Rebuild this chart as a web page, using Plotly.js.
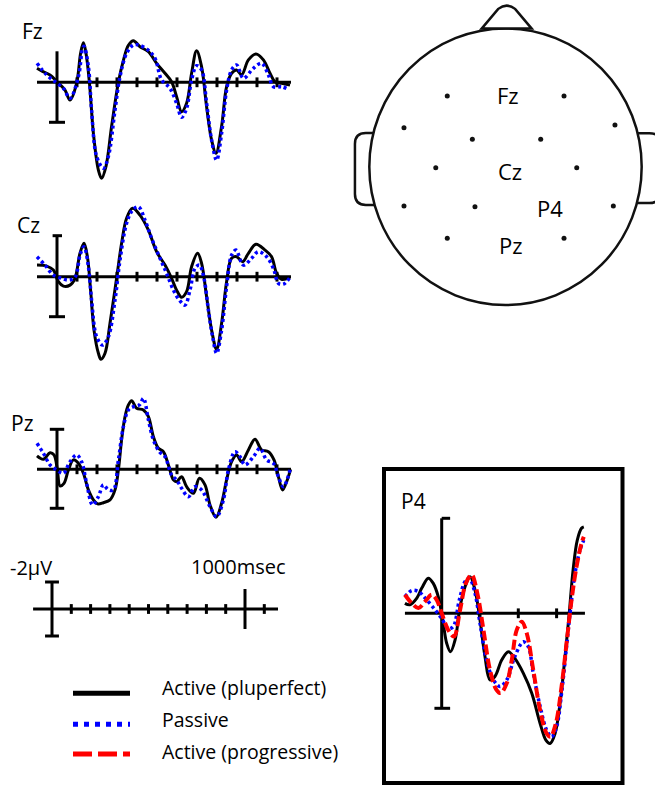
<!DOCTYPE html>
<html><head><meta charset="utf-8">
<script src="https://cdn.plot.ly/plotly-3.0.1.min.js"></script>
<style>html,body{margin:0;padding:0;background:#fff}#chart{width:655px;height:788px}</style>
</head><body><div id="chart"></div>
<script>
// ---------------- DATA (time in ms, amplitude in µV; negative plotted up) ----------------
const fzActiveT = [-100,-70,-35,0,40,65,98,118,132,145,162,182,207,223,245,273,307,332,357,382,415,457,498,540,573,598,623,648,673,698,723,748,773,795,823,848,873,898,923,957,995,1032,1065,1090,1123,1165];
const fzActiveV = [-0.70,-0.53,-0.37,-0.03,0.39,0.89,0.05,-1.45,-1.98,-1.45,0.0,2.55,4.39,4.8,4.2,2.2,0.0,-1.1,-1.85,-2.08,-1.78,-1.53,-0.95,-0.45,-0.03,0.72,1.47,1.05,-0.45,-1.58,-0.78,1.22,2.89,3.55,2.2,0.22,-0.45,-0.62,-0.37,-1.12,-1.42,-1.12,-0.45,-0.03,0.05,0.14];
const fzPassiveT = [-100,-52,-10,32,65,107,128,135,157,173,198,232,257,290,315,348,382,407,457,490,523,565,598,623,648,673,698,723,748,773,798,823,848,873,898,932,982,1023,1057,1082,1123,1157];
const fzPassiveV = [-0.95,-0.37,-0.03,0.30,0.80,-0.28,-1.70,-1.80,-0.78,1.39,3.7,4.3,3.7,1.39,-0.28,-1.45,-1.87,-1.87,-1.6,-1.2,-0.12,0.30,1.05,1.75,1.3,-0.12,-0.83,-0.62,1.05,2.89,3.89,2.55,0.39,-0.62,-0.87,-0.2,-0.7,-0.95,-0.37,0.22,0.22,0.35];

const czActiveT = [-100,-52,-18,7,32,65,90,115,135,152,168,185,207,220,240,265,298,323,348,378,415,457,498,540,573,598,623,648,673,703,723,748,773,798,823,848,873,898,928,957,995,1040,1073,1098,1123,1165];
const czActiveV = [-0.58,-0.53,-0.33,0.25,0.47,0.42,0.08,-1.17,-1.67,-1.0,0.67,2.67,3.83,4.13,3.83,2.33,0.08,-1.67,-2.92,-3.42,-3.08,-2.33,-1.25,-0.58,0.08,0.67,1.03,0.75,-0.5,-1.17,-0.67,1.0,2.67,3.63,2.33,0.25,-0.92,-1.0,-0.75,-1.17,-1.62,-1.33,-1.0,-0.17,0.13,0.03];
const czPassiveT = [-100,-60,-18,23,57,90,115,135,157,173,198,228,257,290,315,348,378,407,440,473,515,548,582,612,640,665,690,712,735,757,778,798,823,848,873,895,932,973,1007,1048,1082,1107,1132,1162];
const czPassiveV = [-1.0,-0.58,-0.08,0.08,0.17,0.03,-1.08,-1.5,-0.5,1.17,3.0,3.42,3.0,1.17,-0.83,-2.67,-3.33,-3.5,-2.83,-1.92,-0.92,-0.17,0.67,1.17,1.42,0.67,-0.42,-0.58,0.08,1.67,3.0,3.83,2.67,0.5,-1.08,-1.33,-0.58,-0.92,-1.25,-1.0,-0.42,0.33,0.37,0.08];

const pzActiveT = [-100,-68,-35,-15,2,15,35,57,82,107,132,157,182,203,232,265,290,307,323,340,357,373,398,432,457,482,507,532,557,582,598,623,648,682,712,740,765,795,823,848,873,898,923,957,990,1023,1057,1085,1107,1128,1148,1168];
const pzActiveV = [-0.67,-0.5,-0.83,-0.72,0.03,0.83,0.7,0.03,-0.47,-0.3,0.2,1.03,1.53,1.73,1.67,1.53,1.03,0.03,-1.47,-2.63,-3.22,-3.43,-3.05,-2.97,-2.63,-1.63,-1.05,-0.88,-0.22,0.53,0.62,0.37,0.87,1.2,0.45,0.78,1.78,2.4,1.7,0.53,-0.38,-0.72,-0.38,-0.97,-1.5,-0.97,-0.88,-0.47,0.37,1.03,0.62,0.0];
const pzPassiveT = [-100,-68,-35,-2,32,65,98,123,148,178,207,232,257,282,307,332,357,382,412,432,457,482,512,540,573,598,623,657,690,723,765,798,832,857,890,915,940,982,1015,1048,1082,1107,1132,1165];
const pzPassiveV = [-1.3,-0.8,-0.22,0.03,0.2,-0.38,-0.72,-0.38,0.7,1.78,1.37,0.78,1.03,1.03,-0.47,-2.13,-2.97,-3.13,-3.22,-3.55,-2.47,-1.47,-0.88,-0.63,0.28,0.53,0.95,1.37,0.87,1.03,1.87,2.37,1.53,0.03,-0.88,-0.63,-0.22,-0.63,-1.05,-0.47,-0.3,0.37,0.87,0.03];

const p4ActiveT = [-96,-83,-65,-52,-35,-22,-9,4,13,23,35,48,61,74,87,100,113,126,139,157,174,191,213,235,257,272,283,296,309,322,333,343,354,365,371];
const p4ActiveV = [-0.21,-0.18,-0.32,-0.53,-0.74,-0.63,-0.35,0.21,0.63,0.81,0.56,-0.14,-0.56,-0.77,-0.49,0.14,0.91,1.40,1.33,0.98,0.81,0.95,1.26,1.68,2.32,2.67,2.74,2.53,1.89,0.91,0.0,-0.91,-1.54,-1.79,-1.82];
const p4PassiveT = [-96,-78,-61,-39,-17,0,17,30,46,61,72,87,100,117,135,152,170,191,213,226,239,257,274,287,300,313,326,337,348,361,371];
const p4PassiveV = [-0.35,-0.48,-0.46,-0.28,-0.07,0.11,0.32,0.28,-0.28,-0.67,-0.74,-0.42,0.21,0.98,1.40,1.54,1.40,0.91,0.60,0.70,1.26,1.96,2.46,2.60,2.39,1.68,0.70,-0.14,-0.84,-1.33,-1.54];
const p4ProgT = [-96,-78,-61,-43,-26,-13,0,17,32,48,63,78,93,109,126,143,154,170,183,196,209,222,239,257,274,284,298,313,326,339,352,365,371];
const p4ProgV = [-0.39,-0.21,-0.11,-0.25,-0.39,-0.28,0.0,0.35,0.49,-0.07,-0.63,-0.81,-0.42,0.35,1.19,1.61,1.68,1.47,0.98,0.35,0.18,0.42,1.19,2.04,2.53,2.60,2.32,1.54,0.63,-0.28,-0.98,-1.47,-1.61];

const panelTicks = [100,200,300,400,500,600,700,800,900,1000,1100];
const p4Ticks = [100,200,300];
const scaleTicks = [100,200,300,400,500,600,700,800,900,1100];
const panelNames = ['Fz','Cz','Pz'];
const legendLabels = ['Active (pluperfect)','Passive','Active (progressive)'];
const scaleLabels = ['-2µV','1000msec'];
const headLabels = ['Fz','Cz','P4','Pz'];
// electrode positions on the scalp map (head radius = 1)
const elecX = [-0.425,0.427,-0.741,0.799,-0.242,0.257,-0.509,0.52,-0.741,-0.223,0.787,-0.425,0.427];
const elecY = [-0.516,-0.516,-0.285,-0.304,-0.2,-0.2,0.007,0.007,0.287,0.292,0.287,0.523,0.523];

// ---------------- LAYOUT HELPERS ----------------
const W = 655, H = 788;
const px = x => x / W, py = y => 1 - y / H;
function panel(g) {
  return {
    x: {domain: [px(g.left), px(g.right)], range: [(g.left - g.zeroX) / g.pxPerMs, (g.right - g.zeroX) / g.pxPerMs], visible: false, fixedrange: true},
    y: {domain: [py(g.bottom), py(g.top)], range: [(g.bottom - g.baseY) / g.pxPerUv, (g.top - g.baseY) / g.pxPerUv], visible: false, fixedrange: true}
  };
}
const geo = {
  fz: {left: 33, right: 295, top: 18, bottom: 192, zeroX: 57, pxPerMs: 0.2, baseY: 82.3, pxPerUv: 20},
  cz: {left: 33, right: 295, top: 196, bottom: 372, zeroX: 57, pxPerMs: 0.2, baseY: 276.7, pxPerUv: 20},
  pz: {left: 33, right: 295, top: 384, bottom: 530, zeroX: 57, pxPerMs: 0.2, baseY: 469.3, pxPerUv: 20},
  sc: {left: 30, right: 282, top: 575, bottom: 645, zeroX: 52, pxPerMs: 0.193, baseY: 609, pxPerUv: 13.5},
  p4: {left: 402, right: 590, top: 505, bottom: 760, zeroX: 441.7, pxPerMs: 0.383, baseY: 613.3, pxPerUv: 47.5}
};
const ids = {fz: ['x', 'y', ''], cz: ['x2', 'y2', '2'], pz: ['x3', 'y3', '3'], sc: ['x4', 'y4', '4'], p4: ['x5', 'y5', '5']};

const layout = {
  width: W, height: H, margin: {l: 0, r: 0, t: 0, b: 0},
  paper_bgcolor: '#fff', plot_bgcolor: 'rgba(0,0,0,0)', showlegend: false,
  font: {family: 'Open Sans, sans-serif', color: '#000'},
  shapes: [], annotations: []
};
for (const k in geo) {
  const p = panel(geo[k]); const s = ids[k][2];
  layout['xaxis' + s] = Object.assign(p.x, {anchor: ids[k][1]});
  layout['yaxis' + s] = Object.assign(p.y, {anchor: ids[k][0]});
}
// head axis (units of head radius)
const head = {cx: 505.5, cy: 166.7, r: 137, left: 345, right: 655, top: 0, bottom: 315};
layout.xaxis6 = {domain: [px(head.left), px(head.right)], range: [(head.left - head.cx) / head.r, (head.right - head.cx) / head.r], visible: false, anchor: 'y6'};
layout.yaxis6 = {domain: [py(head.bottom), py(head.top)], range: [(head.bottom - head.cy) / head.r, (head.top - head.cy) / head.r], visible: false, anchor: 'x6'};

const K = '#000';
function hline(xa, ya, x0, x1, y, w) { return {type: 'line', xref: xa, yref: ya, x0: x0, x1: x1, y0: y, y1: y, layer: 'below', line: {color: K, width: w}}; }
function vline(xa, ya, x, y0, y1, w) { return {type: 'line', xref: xa, yref: ya, x0: x, x1: x, y0: y0, y1: y1, layer: 'below', line: {color: K, width: w}}; }

// ---------------- TRACES ----------------
const traces = [];
const sBlack = {color: '#000', width: 3};
const sBlue = {color: '#0000ff', width: 3.5, dash: '3px,3px'};
const sRed = {color: '#ff0000', width: 4, dash: '10px,4px'};
function curve(t, v, k, st) {
  traces.push({type: 'scatter', mode: 'lines', x: t, y: v, xaxis: ids[k][0], yaxis: ids[k][1],
    line: Object.assign({shape: 'spline', smoothing: 1}, st), hoverinfo: 'skip'});
}
function ticks(t, k, size) {
  traces.push({type: 'scatter', mode: 'markers', x: t, y: t.map(() => 0), xaxis: ids[k][0], yaxis: ids[k][1],
    marker: {symbol: 'line-ns', size: size, line: {width: 3, color: K}}, hoverinfo: 'skip'});
}
['fz', 'cz', 'pz'].forEach(k => ticks(panelTicks, k, 7));
ticks(p4Ticks, 'p4', 7);
ticks(scaleTicks, 'sc', 7);

curve(fzActiveT, fzActiveV, 'fz', sBlack); curve(fzPassiveT, fzPassiveV, 'fz', sBlue);
curve(czActiveT, czActiveV, 'cz', sBlack); curve(czPassiveT, czPassiveV, 'cz', sBlue);
curve(pzActiveT, pzActiveV, 'pz', sBlack); curve(pzPassiveT, pzPassiveV, 'pz', sBlue);
curve(p4ActiveT, p4ActiveV, 'p4', sBlack); curve(p4PassiveT, p4PassiveV, 'p4', sBlue); curve(p4ProgT, p4ProgV, 'p4', sRed);

// electrodes
traces.push({type: 'scatter', mode: 'markers', x: elecX, y: elecY, xaxis: 'x6', yaxis: 'y6',
  marker: {color: '#111', size: 5}, hoverinfo: 'skip'});

// ---------------- SHAPES ----------------
const S = layout.shapes;
// baselines
['fz', 'cz', 'pz'].forEach(k => S.push(hline(ids[k][0], ids[k][1], -100, 1170, 0, 3)));
S.push(hline('x5', 'y5', -96, 374, 0, 3));
S.push(hline('x4', 'y4', -98, 1171, 0, 3));
// amplitude bars in each panel
S.push(vline('x', 'y', 0, -1.55, 2.0, 3)); S.push(hline('x', 'y', -40, 40, 2.0, 3));
S.push(vline('x2', 'y2', 0, -2.05, 2.0, 3)); S.push(hline('x2', 'y2', -22, 25, -2.05, 3)); S.push(hline('x2', 'y2', -40, 40, 2.0, 3));
S.push(vline('x3', 'y3', 0, -2.0, 1.95, 3)); S.push(hline('x3', 'y3', -36, 36, -2.0, 3)); S.push(hline('x3', 'y3', -36, 36, 1.95, 3));
S.push(vline('x5', 'y5', 0, -2.0, 2.0, 3)); S.push(hline('x5', 'y5', 0, 22, -2.0, 3)); S.push(hline('x5', 'y5', -19, 22, 2.0, 3));
// scale key
S.push(vline('x4', 'y4', 0, -2, 2, 3)); S.push(hline('x4', 'y4', -36, 36, -2, 3)); S.push(hline('x4', 'y4', -36, 36, 2, 3));
S.push(vline('x4', 'y4', 1000, -1.48, 1.48, 3));
// P4 frame
S.push({type: 'rect', xref: 'paper', yref: 'paper', x0: px(384), x1: px(622.5), y0: py(783), y1: py(469), layer: 'below', line: {color: K, width: 4}});
// legend samples
S.push({type: 'line', xref: 'paper', yref: 'paper', x0: px(73), x1: px(130), y0: py(693.3), y1: py(693.3), line: {color: '#000', width: 5}});
S.push({type: 'line', xref: 'paper', yref: 'paper', x0: px(73), x1: px(130), y0: py(724.3), y1: py(724.3), line: {color: '#0000ff', width: 5, dash: '5px,6px'}});
S.push({type: 'line', xref: 'paper', yref: 'paper', x0: px(73), x1: px(130), y0: py(754), y1: py(754), line: {color: '#ff0000', width: 5, dash: '19px,6px'}});
// head: ears, outline, nose
function ear(x0, x1, y0, y1, r, left) {
  return left
    ? `M ${x1},${y0} L ${x0 + r},${y0} Q ${x0},${y0} ${x0},${y0 + r} L ${x0},${y1 - r} Q ${x0},${y1} ${x0 + r},${y1} L ${x1},${y1} Z`
    : `M ${x0},${y0} L ${x1 - r},${y0} Q ${x1},${y0} ${x1},${y0 + r} L ${x1},${y1 - r} Q ${x1},${y1} ${x1 - r},${y1} L ${x0},${y1} Z`;
}
const hs = {xref: 'x6', yref: 'y6', layer: 'below', fillcolor: '#fff', line: {color: '#111', width: 2.5}};
S.push(Object.assign({type: 'path', path: ear(-1.099, -0.95, -0.246, 0.279, 0.08, true)}, hs));
S.push(Object.assign({type: 'path', path: ear(0.95, 1.13, -0.245, 0.265, 0.08, false)}, hs));
S.push(Object.assign({type: 'circle', x0: -0.994, x1: 0.994, y0: -1.0095, y1: 1.0095}, hs));
S.push(Object.assign({type: 'path', path: 'M -0.174,-1.008 L -0.053,-1.152 Q 0.009,-1.2 0.07,-1.152 L 0.191,-1.008 Z'}, hs));

// ---------------- TEXT ----------------
const A = layout.annotations;
function label(text, x, y, size, anchor, xref, yref) {
  A.push({text: text, x: x, y: y, xref: xref || 'paper', yref: yref || 'paper', xanchor: anchor || 'left', yanchor: 'middle',
    showarrow: false, font: {family: 'Open Sans, sans-serif', size: size, color: '#000'}});
}
label(panelNames[0], px(19.5), py(31), 21);
label(panelNames[1], px(14.5), py(225), 21);
label(panelNames[2], px(9), py(422.5), 21);
label('P4', px(398.5), py(500.5), 21);
label(scaleLabels[0], px(8), py(567), 20);
label(scaleLabels[1], px(189), py(566), 20);
label(legendLabels[0], px(159.5), py(687), 19.5);
label(legendLabels[1], px(159.5), py(719), 19.5);
label(legendLabels[2], px(159.5), py(751), 19.5);
const headPos = [[0.015, -0.525], [0.036, 0.028], [0.327, 0.298], [0.040, 0.570]];
headLabels.forEach((t, i) => label(t, headPos[i][0], headPos[i][1], 22, 'center', 'x6', 'y6'));

Plotly.newPlot('chart', traces, layout, {staticPlot: true, displayModeBar: false});
</script></body></html>
